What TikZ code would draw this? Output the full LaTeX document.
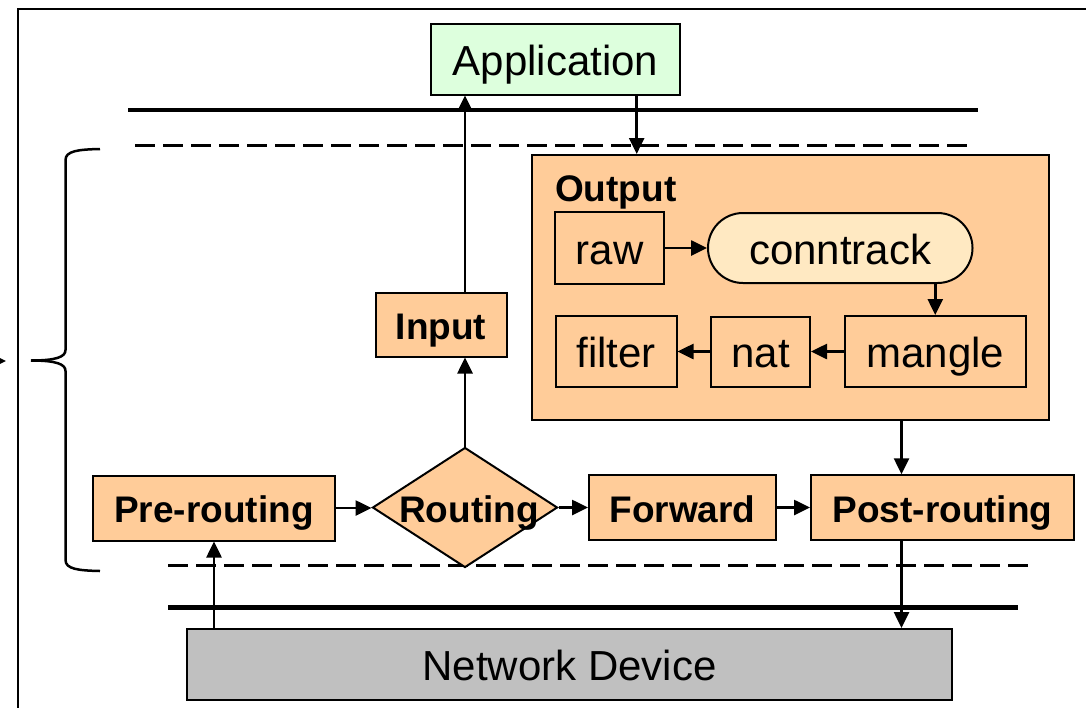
\documentclass[tikz,border=0pt]{standalone}
\usepackage{fontspec}
\setmainfont{Liberation Sans}
\usetikzlibrary{shapes.geometric,arrows.meta,calc}

\definecolor{peach}{HTML}{FFCC99}
\definecolor{appgreen}{HTML}{DDFFDD}
\definecolor{cream}{HTML}{FFE9C2}
\definecolor{devgray}{HTML}{C0C0C0}

\begin{document}
\begin{tikzpicture}[x=1pt,y=-1pt,
  plainfont/.style={font=\fontsize{42}{48}\selectfont, text height=32pt, text depth=0pt},
  hookfont/.style={font=\fontsize{37}{44}\selectfont\bfseries, text height=29pt, text depth=0pt},
  box/.style={draw=black, line width=2pt, fill=peach, inner sep=0pt, plainfont},
  hookbox/.style={box, hookfont},
  arr/.style={line width=2.6pt, -{Triangle[length=16pt,width=15pt]}},
  solidbar/.style={line width=4.5pt},
  dashbar/.style={line width=3pt, dash pattern=on 20pt off 8pt},
]
\useasboundingbox (0,0) rectangle (1086,707);
\clip (0,0) rectangle (1086,707);

% outer frame
\draw[line width=2pt] (17.5,720) -- (17.5,9) -- (1100,9);

% layer boundaries
\draw[solidbar] (128,110) -- (978,110);
\draw[dashbar]  (135,145.5) -- (972,145.5);
\draw[dashbar, line width=2.6pt] (168,565.5) -- (1031,565.5);
\draw[solidbar] (168,607.5) -- (1018,607.5);

% brace spanning the kernel part
\draw[line width=2.5pt]
  (100,149) .. controls (78,149.5) and (65.5,151) .. (65.5,160) -- (65.5,350)
  .. controls (65.5,357) and (56,360.5) .. (31,360.5);
\draw[line width=2.5pt]
  (31,360.5) .. controls (56,360.5) and (65.5,364) .. (65.5,371) -- (65.5,560)
  .. controls (65.5,569) and (78,570.5) .. (100,571);

% incoming arrow at the left edge
\coordinate (ext) at (-40,361);
\coordinate (brtip) at (6,361);
\draw[arr] (ext) -- (brtip);

% nodes
\node[box, fill=appgreen, minimum width=249pt, minimum height=71pt] (app) at (555.5,59) {Application};

\node[box, minimum width=517pt, minimum height=265pt] (output) at (790.5,287.5) {};
\node[hookfont, anchor=base west, inner sep=0pt] (outtitle) at (555,201) {Output};

\node[box, minimum width=109pt, minimum height=72pt] (raw) at (609.5,248) {raw};
\node[box, fill=cream, rounded corners=35pt, minimum width=264.5pt, minimum height=70pt] (conntrack) at (840.25,248) {conntrack};
\node[box, minimum width=180.5pt, minimum height=71pt] (mangle) at (935.25,351.5) {mangle};
\node[box, minimum width=99pt, minimum height=70pt] (nat) at (760.5,351.5) {nat};
\node[box, minimum width=120.5pt, minimum height=71pt] (filter) at (616.25,351.5) {filter};

\node[hookbox, minimum width=131pt, minimum height=64pt] (input) at (441,324.5) {Input};

\node[hookbox, minimum width=242pt, minimum height=65pt] (prerouting) at (214,508) {Pre-routing};
\node[draw=black, line width=2pt, fill=peach, shape=diamond, inner sep=0pt,
      minimum width=185pt, minimum height=120pt,
      label={[hookfont, inner sep=0pt, xshift=4pt]center:Routing}] (routing) at (465,507.5) {};
\node[hookbox, minimum width=187pt, minimum height=65pt] (forward) at (682.5,507.5) {Forward};
\node[hookbox, minimum width=263pt, minimum height=64.5pt] (postrouting) at (942.5,507.5) {Post-routing};

\node[box, fill=devgray, minimum width=765pt, minimum height=71pt] (netdev) at (569.5,664.5) {Network Device};

% vertical lanes used by the connectors
\coordinate (downlane) at (636.7,0);
\coordinate (outlane) at (901.5,0);

% connectors
\draw[arr] (netdev.north -| prerouting.south) -- (prerouting.south);
\draw[arr] (prerouting.east) -- (prerouting.east -| routing.west);
\draw[arr] (routing.east) -- (forward.west);
\draw[arr] (forward.east) -- (forward.east -| postrouting.west);
\draw[arr] (routing.north) -- (routing.north |- input.south);
\draw[arr] (routing.north |- input.north) -- (routing.north |- app.south);
\draw[arr] (app.south -| downlane) -- (output.north -| downlane);
\draw[arr] (output.south -| outlane) -- (postrouting.north -| outlane);
\draw[arr] (postrouting.south -| outlane) -- (netdev.north -| outlane);

\draw[arr] (raw.east) -- (conntrack.west);
\draw[arr] (conntrack.south -| mangle.north) -- (mangle.north);
\draw[arr] (mangle.west) -- (nat.east);
\draw[arr] (nat.west) -- (filter.east);
\end{tikzpicture}
\end{document}
